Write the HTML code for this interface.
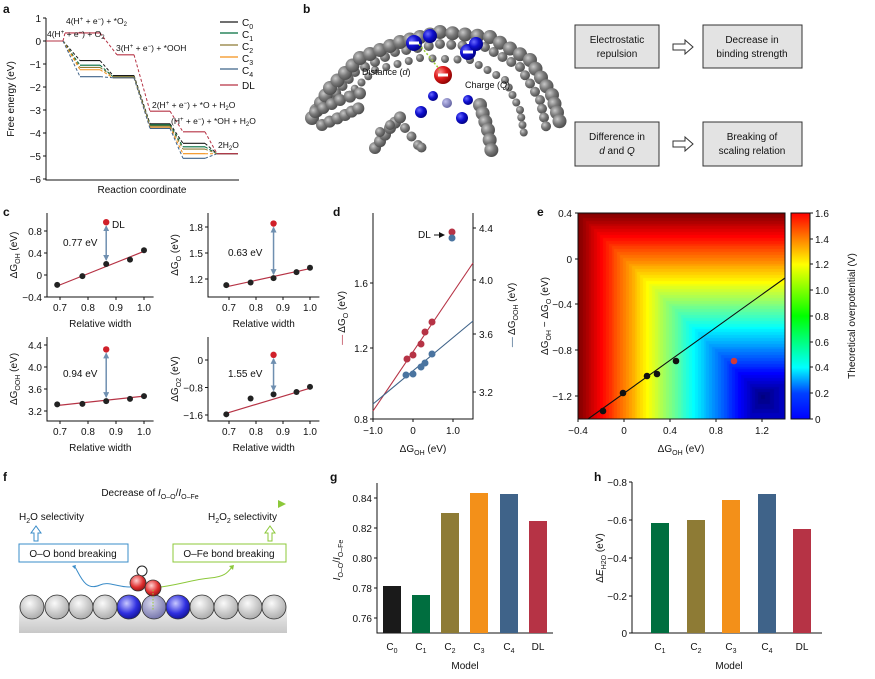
<!DOCTYPE html>
<html><head><meta charset="utf-8"><style>
body{margin:0;background:#fff;}
#w{position:relative;width:875px;height:679px;overflow:hidden;font-family:"Liberation Sans",sans-serif;}
svg{position:absolute;left:0;top:0;}
text{font-family:"Liberation Sans",sans-serif;fill:#111;}
#hm{position:absolute;left:578px;top:213px;}
</style></head><body><div id="w">
<canvas id="hm" width="207" height="206"></canvas>
<svg id="s" width="875" height="679" viewBox="0 0 875 679">
<defs>
<radialGradient id="gg" cx="0.35" cy="0.35" r="0.7"><stop offset="0" stop-color="#c8c8c8"/><stop offset="0.5" stop-color="#7a7a7a"/><stop offset="1" stop-color="#4a4a4a"/></radialGradient>
<radialGradient id="gb" cx="0.35" cy="0.35" r="0.7"><stop offset="0" stop-color="#6a6aff"/><stop offset="0.5" stop-color="#1010d0"/><stop offset="1" stop-color="#000080"/></radialGradient>
<radialGradient id="gr" cx="0.35" cy="0.35" r="0.7"><stop offset="0" stop-color="#ff9090"/><stop offset="0.5" stop-color="#dd1a1a"/><stop offset="1" stop-color="#8a0000"/></radialGradient>
<radialGradient id="gl" cx="0.4" cy="0.35" r="0.7"><stop offset="0" stop-color="#fafafa"/><stop offset="1" stop-color="#a8a8a8"/></radialGradient>
<radialGradient id="gbl" cx="0.4" cy="0.35" r="0.7"><stop offset="0" stop-color="#c8c8ff"/><stop offset="0.6" stop-color="#3030e0"/><stop offset="1" stop-color="#101090"/></radialGradient>
<radialGradient id="gp" cx="0.4" cy="0.35" r="0.7"><stop offset="0" stop-color="#d8d8ee"/><stop offset="1" stop-color="#7070a8"/></radialGradient>
<radialGradient id="gro" cx="0.4" cy="0.35" r="0.7"><stop offset="0" stop-color="#ffd0d0"/><stop offset="0.6" stop-color="#e03030"/><stop offset="1" stop-color="#901010"/></radialGradient>
<radialGradient id="gpu" cx="0.35" cy="0.35" r="0.7"><stop offset="0" stop-color="#c0c0ee"/><stop offset="1" stop-color="#6060a0"/></radialGradient>
<linearGradient id="jet" x1="0" y1="1" x2="0" y2="0">
<stop offset="0" stop-color="#0000ff"/><stop offset="0.125" stop-color="#0040ff"/><stop offset="0.25" stop-color="#00ffff"/><stop offset="0.5" stop-color="#00ff00"/><stop offset="0.75" stop-color="#ffff00"/><stop offset="0.875" stop-color="#ff8000"/><stop offset="1" stop-color="#ff0000"/></linearGradient>
<linearGradient id="arrg" x1="0" x2="1"><stop offset="0" stop-color="#3a8cc8"/><stop offset="1" stop-color="#8cc83a"/></linearGradient>
<linearGradient id="base" x1="0" y1="0" x2="0" y2="1"><stop offset="0" stop-color="#f4f4f4"/><stop offset="1" stop-color="#c8c8c8"/></linearGradient>
<marker id="ah" markerUnits="userSpaceOnUse" markerWidth="6" markerHeight="6" refX="5" refY="3" orient="auto-start-reverse"><path d="M0,0 L6,3 L0,6 z" fill="#6f8fb0"/></marker>
<marker id="ahk" markerUnits="userSpaceOnUse" markerWidth="6" markerHeight="6" refX="5" refY="3" orient="auto"><path d="M0,0 L6,3 L0,6 z" fill="#111"/></marker>
</defs>
<g font-weight="bold" font-size="12"><text x="3" y="13">a</text><text x="303" y="13">b</text><text x="3" y="216">c</text><text x="333" y="216">d</text><text x="537" y="216">e</text><text x="3" y="481">f</text><text x="330" y="481">g</text><text x="594" y="481">h</text></g>

<!-- Panel a -->
<g stroke="#111" stroke-width="1" fill="none"><path d="M46,18 V180 H239"/>
<path d="M43,18H46M43,41H46M43,64H46M43,87H46M43,110H46M43,133H46M43,156H46M43,179H46"/></g>
<g font-size="10" text-anchor="end"><text x="41" y="22">1</text><text x="41" y="45">0</text><text x="41" y="68">−1</text><text x="41" y="91">−2</text><text x="41" y="114">−3</text><text x="41" y="137">−4</text><text x="41" y="160">−5</text><text x="41" y="183">−6</text></g>
<text x="14" y="99" font-size="10" text-anchor="middle" transform="rotate(-90 14 99)">Free energy (eV)</text>
<text x="142" y="193" font-size="10" text-anchor="middle">Reaction coordinate</text>
<g id="alevels"></g>
<g font-size="8.5">
<text x="66" y="24">4(H<tspan dy="-3" font-size="6">+</tspan><tspan dy="3"> + e</tspan><tspan dy="-3" font-size="6">−</tspan><tspan dy="3">) + *O</tspan><tspan dy="2" font-size="6">2</tspan></text>
<text x="47" y="37">4(H<tspan dy="-3" font-size="6">+</tspan><tspan dy="3"> + e</tspan><tspan dy="-3" font-size="6">−</tspan><tspan dy="3">) + O</tspan><tspan dy="2" font-size="6">2</tspan></text>
<text x="116" y="51">3(H<tspan dy="-3" font-size="6">+</tspan><tspan dy="3"> + e</tspan><tspan dy="-3" font-size="6">−</tspan><tspan dy="3">) + *OOH</tspan></text>
<text x="152" y="108">2(H<tspan dy="-3" font-size="6">+</tspan><tspan dy="3"> + e</tspan><tspan dy="-3" font-size="6">−</tspan><tspan dy="3">) + *O + H</tspan><tspan dy="2" font-size="6">2</tspan><tspan dy="-2">O</tspan></text>
<text x="171" y="124">(H<tspan dy="-3" font-size="6">+</tspan><tspan dy="3"> + e</tspan><tspan dy="-3" font-size="6">−</tspan><tspan dy="3">) + *OH + H</tspan><tspan dy="2" font-size="6">2</tspan><tspan dy="-2">O</tspan></text>
<text x="218" y="148">2H<tspan dy="2" font-size="6">2</tspan><tspan dy="-2">O</tspan></text>
</g>
<g stroke-width="1.3"><path d="M220,22h18" stroke="#1a1a1a"/><path d="M220,33h18" stroke="#006e3f"/><path d="M220,45h18" stroke="#8e7b35"/><path d="M220,57h18" stroke="#f39019"/><path d="M220,69h18" stroke="#3f6389"/><path d="M220,85h18" stroke="#b63345"/></g>
<g font-size="10"><text x="242" y="26">C<tspan dy="3" font-size="7">0</tspan></text><text x="242" y="38">C<tspan dy="3" font-size="7">1</tspan></text><text x="242" y="50">C<tspan dy="3" font-size="7">2</tspan></text><text x="242" y="62">C<tspan dy="3" font-size="7">3</tspan></text><text x="242" y="74">C<tspan dy="3" font-size="7">4</tspan></text><text x="242" y="89">DL</text></g>

<!-- Panel b -->
<g id="mol"></g>
<path d="M419,44 L440,70" stroke="#9acd32" stroke-width="1.5" stroke-dasharray="2,2"/>
<g font-size="9" fill="#223"><text x="362" y="75" fill="#223">Distance (<tspan font-style="italic">d</tspan>)</text><text x="465" y="88">Charge (<tspan font-style="italic">Q</tspan>)</text></g>
<g fill="#e3e3e3" stroke="#333" stroke-width="1"><rect x="575" y="25" width="84" height="43"/><rect x="703" y="25" width="99" height="43"/><rect x="575" y="122" width="84" height="44"/><rect x="703" y="122" width="99" height="44"/></g>
<g font-size="10" text-anchor="middle"><text x="617" y="43">Electrostatic</text><text x="617" y="57">repulsion</text><text x="752" y="43">Decrease in</text><text x="752" y="57">binding strength</text><text x="617" y="140">Difference in</text><text x="617" y="154"><tspan font-style="italic">d</tspan> and <tspan font-style="italic">Q</tspan></text><text x="752" y="140">Breaking of</text><text x="752" y="154">scaling relation</text></g>
<g fill="#fff" stroke="#333" stroke-width="1"><path d="M673,44h12v-4l8,7l-8,7v-4h-12z"/><path d="M673,141h12v-4l8,7l-8,7v-4h-12z"/></g>

<!-- Panel c -->
<g id="pc"></g>

<!-- Panel d -->
<g stroke="#111" fill="none"><path d="M373,213V419H473V213"/>
<path d="M370,283h3M370,348h3M370,419h3M473,228h3M473,280h3M473,334h3M473,392h3M373,419v3M413,419v3M453,419v3"/></g>
<g font-size="10"><g text-anchor="end"><text x="368" y="287">1.6</text><text x="368" y="352">1.2</text><text x="368" y="423">0.8</text></g>
<text x="479" y="232">4.4</text><text x="479" y="284">4.0</text><text x="479" y="338">3.6</text><text x="479" y="396">3.2</text>
<g text-anchor="middle"><text x="373" y="434">−1.0</text><text x="413" y="434">0</text><text x="453" y="434">1.0</text></g>
<text x="423" y="452" text-anchor="middle">ΔG<tspan dy="3" font-size="7">OH</tspan><tspan dy="-3"> (eV)</tspan></text></g>
<text x="345" y="318" font-size="10" text-anchor="middle" transform="rotate(-90 345 318)"><tspan fill="#b63345">— </tspan>ΔG<tspan dy="3" font-size="7">O</tspan><tspan dy="-3"> (eV)</tspan></text>
<text x="515" y="315" font-size="10" text-anchor="middle" transform="rotate(-90 515 315)"><tspan fill="#3f6389">— </tspan>ΔG<tspan dy="3" font-size="7">OOH</tspan><tspan dy="-3"> (eV)</tspan></text>
<path d="M373,411L473,263" stroke="#b63345" stroke-width="1.1"/><path d="M373,404L473,321" stroke="#3f6389" stroke-width="1.1"/>
<g fill="#b63345"><circle cx="407" cy="359" r="3.5"/><circle cx="413" cy="355" r="3.5"/><circle cx="421" cy="344" r="3.5"/><circle cx="425" cy="332" r="3.5"/><circle cx="432" cy="322" r="3.5"/><circle cx="452" cy="232" r="3.5"/></g>
<g fill="#4a74a0"><circle cx="406" cy="375" r="3.5"/><circle cx="413" cy="374" r="3.5"/><circle cx="421" cy="367" r="3.5"/><circle cx="425" cy="363" r="3.5"/><circle cx="432" cy="354" r="3.5"/><circle cx="452" cy="238" r="3.5"/></g>
<text x="418" y="238" font-size="10">DL</text><path d="M434,235h10" stroke="#111" marker-end="url(#ahk)"/>

<!-- Panel e -->
<g stroke="#111" fill="none"><rect x="578" y="213" width="207" height="206"/>
<path d="M575,213h3M575,259h3M575,304h3M575,350h3M575,396h3M578,419v3M624,419v3M670,419v3M716,419v3M762,419v3"/></g>
<path d="M588,419L785,278" stroke="#111" stroke-width="1.1"/>
<g fill="#111"><circle cx="603" cy="411" r="3.3"/><circle cx="623" cy="393" r="3.3"/><circle cx="647" cy="376" r="3.3"/><circle cx="657" cy="374" r="3.3"/><circle cx="676" cy="361" r="3.3"/></g>
<circle cx="734" cy="361" r="3.3" fill="#d03a3a"/>
<g font-size="10"><g text-anchor="end"><text x="572" y="217">0.4</text><text x="572" y="263">0</text><text x="572" y="308">−0.4</text><text x="572" y="354">−0.8</text><text x="572" y="400">−1.2</text></g>
<g text-anchor="middle"><text x="578" y="434">−0.4</text><text x="624" y="434">0</text><text x="670" y="434">0.4</text><text x="716" y="434">0.8</text><text x="762" y="434">1.2</text></g>
<text x="681" y="452" text-anchor="middle">ΔG<tspan dy="3" font-size="7">OH</tspan><tspan dy="-3"> (eV)</tspan></text></g>
<text x="548" y="316" font-size="10" text-anchor="middle" transform="rotate(-90 548 316)">ΔG<tspan dy="3" font-size="7">OH</tspan><tspan dy="-3"> − ΔG</tspan><tspan dy="3" font-size="7">O</tspan><tspan dy="-3"> (eV)</tspan></text>
<rect x="791" y="213" width="19" height="206" fill="url(#jet)" stroke="#111"/>
<g stroke="#111"><path d="M810,213h3M810,239h3M810,264h3M810,290h3M810,316h3M810,342h3M810,367h3M810,393h3M810,419h3"/></g>
<g font-size="10"><text x="815" y="217">1.6</text><text x="815" y="243">1.4</text><text x="815" y="268">1.2</text><text x="815" y="294">1.0</text><text x="815" y="320">0.8</text><text x="815" y="346">0.6</text><text x="815" y="371">0.4</text><text x="815" y="397">0.2</text><text x="815" y="423">0</text></g>
<text x="855" y="316" font-size="10" text-anchor="middle" transform="rotate(-90 855 316)">Theoretical overpotential (V)</text>

<!-- Panel f -->
<path d="M20,504H280" stroke="url(#arrg)" stroke-width="1.5"/><path d="M278,500L286,504L278,508z" fill="#8cc83a"/>
<text x="150" y="496" font-size="10" text-anchor="middle">Decrease of <tspan font-style="italic">I</tspan><tspan dy="3" font-size="7">O–O</tspan><tspan dy="-3">/</tspan><tspan font-style="italic">I</tspan><tspan dy="3" font-size="7">O–Fe</tspan></text>
<text x="19" y="520" font-size="10">H<tspan dy="3" font-size="7">2</tspan><tspan dy="-3">O selectivity</tspan></text>
<text x="208" y="520" font-size="10">H<tspan dy="3" font-size="7">2</tspan><tspan dy="-3">O</tspan><tspan dy="3" font-size="7">2</tspan><tspan dy="-3"> selectivity</tspan></text>
<path d="M34,541v-8h-3l5,-7l5,7h-3v8z" fill="#fff" stroke="#3a8cc8"/>
<path d="M268,541v-8h-3l5,-7l5,7h-3v8z" fill="#fff" stroke="#8cc83a"/>
<rect x="19" y="544" width="109" height="18" fill="#fff" stroke="#3a8cc8"/>
<rect x="173" y="544" width="113" height="18" fill="#fff" stroke="#8cc83a"/>
<text x="73" y="557" font-size="10" text-anchor="middle">O–O bond breaking</text>
<text x="229" y="557" font-size="10" text-anchor="middle">O–Fe bond breaking</text>
<path d="M138,586 C120,590 110,580 100,585 C85,592 80,575 75,567" stroke="#3a8cc8" fill="none"/><path d="M72,566l4,-1l-1,4z" fill="#3a8cc8"/>
<path d="M153,588 C180,585 190,580 210,578 C225,577 228,572 232,567" stroke="#8cc83a" fill="none"/><path d="M229,566l5,-1l-1,5z" fill="#8cc83a"/>
<rect x="19" y="605" width="268" height="28" fill="url(#base)"/>
<g id="frow" stroke="#333" stroke-width="0.8"></g>
<circle cx="142" cy="571" r="5" fill="#fff" stroke="#222"/>
<circle cx="138" cy="583" r="8" fill="url(#gro)" stroke="#333" stroke-width="0.8"/>
<circle cx="153" cy="588" r="8" fill="url(#gro)" stroke="#333" stroke-width="0.8"/>
<path d="M153,590V610" stroke="#9acd32" stroke-dasharray="1.5,1.5"/>

<!-- Panel g -->
<g stroke="#111" fill="none"><path d="M377,483V633H553"/>
<path d="M374,498h3M374,528h3M374,558h3M374,588h3M374,618h3"/></g>
<g font-size="10" text-anchor="end"><text x="372" y="502">0.84</text><text x="372" y="532">0.82</text><text x="372" y="562">0.80</text><text x="372" y="592">0.78</text><text x="372" y="622">0.76</text></g>
<g><rect x="383" y="586" width="18" height="47" fill="#1a1a1a"/><rect x="412" y="595" width="18" height="38" fill="#006e3f"/><rect x="441" y="513" width="18" height="120" fill="#8e7b35"/><rect x="470" y="493" width="18" height="140" fill="#f39019"/><rect x="500" y="494" width="18" height="139" fill="#3f6389"/><rect x="529" y="521" width="18" height="112" fill="#b63345"/></g>
<g font-size="10" text-anchor="middle"><text x="392" y="650">C<tspan dy="3" font-size="7">0</tspan></text><text x="421" y="650">C<tspan dy="3" font-size="7">1</tspan></text><text x="450" y="650">C<tspan dy="3" font-size="7">2</tspan></text><text x="479" y="650">C<tspan dy="3" font-size="7">3</tspan></text><text x="509" y="650">C<tspan dy="3" font-size="7">4</tspan></text><text x="538" y="650">DL</text><text x="465" y="669">Model</text></g>
<text x="340" y="560" font-size="10" text-anchor="middle" transform="rotate(-90 340 560)"><tspan font-style="italic">I</tspan><tspan dy="3" font-size="7">O–O</tspan><tspan dy="-3">/</tspan><tspan font-style="italic">I</tspan><tspan dy="3" font-size="7">O–Fe</tspan></text>

<!-- Panel h -->
<g stroke="#111" fill="none"><path d="M632,482V633H822"/>
<path d="M629,482h3M629,520h3M629,558h3M629,596h3M629,633h3"/></g>
<g font-size="10" text-anchor="end"><text x="627" y="486">−0.8</text><text x="627" y="524">−0.6</text><text x="627" y="562">−0.4</text><text x="627" y="600">−0.2</text><text x="627" y="637">0</text></g>
<g><rect x="651" y="523" width="18" height="110" fill="#006e3f"/><rect x="687" y="520" width="18" height="113" fill="#8e7b35"/><rect x="722" y="500" width="18" height="133" fill="#f39019"/><rect x="758" y="494" width="18" height="139" fill="#3f6389"/><rect x="793" y="529" width="18" height="104" fill="#b63345"/></g>
<g font-size="10" text-anchor="middle"><text x="660" y="650">C<tspan dy="3" font-size="7">1</tspan></text><text x="696" y="650">C<tspan dy="3" font-size="7">2</tspan></text><text x="731" y="650">C<tspan dy="3" font-size="7">3</tspan></text><text x="767" y="650">C<tspan dy="3" font-size="7">4</tspan></text><text x="802" y="650">DL</text><text x="729" y="669">Model</text></g>
<text x="603" y="558" font-size="10" text-anchor="middle" transform="rotate(-90 603 558)">Δ<tspan font-style="italic">E</tspan><tspan dy="3" font-size="7">H2O</tspan><tspan dy="-3"> (eV)</tspan></text>
</svg>
<script>
var NS="http://www.w3.org/2000/svg";
function el(p,t,a){var e=document.createElementNS(NS,t);for(var k in a)e.setAttribute(k,a[k]);p.appendChild(e);return e;}
function jet(v){var r=Math.min(4*v-1.5,-4*v+4.5),g=Math.min(4*v-0.5,-4*v+3.5),b=Math.min(4*v+0.5,-4*v+2.5);
function c(x){return Math.round(255*Math.max(0,Math.min(1,x)));}return [c(r),c(g),c(b)];}
(function(){var cv=document.getElementById('hm'),ctx=cv.getContext('2d'),W=207,H=206,im=ctx.createImageData(W,H);
for(var j=0;j<H;j++)for(var i=0;i<W;i++){var x=-0.4+1.8*i/W,y=0.4-1.8*j/H;
var e=Math.max(1.2-x,1.2+y,0.6*(x-1.2),0.6*(-1.2-y));e=Math.max(0,Math.min(1.6,e));e=Math.round(e/0.025)*0.025;
var c=jet(e/1.6),k=4*(j*W+i);im.data[k]=c[0];im.data[k+1]=c[1];im.data[k+2]=c[2];im.data[k+3]=255;}
ctx.putImageData(im,0,0);})();
(function(){var g=document.getElementById('alevels');function Y(v){return 41-23*v;}
var cols=['#1a1a1a','#006e3f','#8e7b35','#f39019','#3f6389','#b63345'];
var st=[[46,63],[80,100],[113,134],[150,170],[183,205],[217,238]];
var L=[[0,-0.85,-1.5,-3.6,-4.45,-4.9],[0,-1.05,-1.55,-3.65,-4.6,-4.9],[0,-1.15,-1.55,-3.7,-4.7,-4.9],[0,-1.25,-1.6,-3.75,-4.9,-4.9],[0,-1.55,-1.6,-3.8,-5.1,-4.9],[0,0.35,-0.6,-3.05,-3.95,-4.9]];
for(var s=0;s<6;s++){for(var k=0;k<6;k++){var x0=st[k][0],x1=st[k][1];if(s==5&&k==1)x0=65;if(s==5&&k==2)x0=117;
el(g,'path',{d:'M'+x0+','+Y(L[s][k])+'H'+x1,stroke:cols[s],'stroke-width':1.1,fill:'none'});
if(k<5){var nx=st[k+1][0];if(s==5&&k==0)nx=65;if(s==5&&k==1)nx=117;
el(g,'path',{d:'M'+x1+','+Y(L[s][k])+'L'+nx+','+Y(L[s][k+1]),stroke:cols[s],'stroke-width':1,'stroke-dasharray':'3,2',fill:'none'});}}}})();
(function(){var g=document.getElementById('mol');
function arc(pts,r,n,fill){for(var i=0;i<pts.length-1;i++){for(var t=0;t<n;t++){var f=t/n;var x=pts[i][0]+(pts[i+1][0]-pts[i][0])*f,y=pts[i][1]+(pts[i+1][1]-pts[i][1])*f;el(g,'circle',{cx:x,cy:y,r:r,fill:fill||'url(#gg)'});}}}
arc([[348,95],[375,70],[420,58],[470,60],[505,80],[520,110],[525,140]],4,4);
arc([[330,100],[355,72],[395,52],[440,44],[485,47],[520,67],[540,100],[548,135]],5,4);
arc([[312,118],[330,88],[360,58],[400,42],[440,32],[490,37],[530,60],[552,95],[562,130]],7,4);
arc([[315,112],[340,100],[370,90]],6,3);
arc([[322,125],[345,115],[365,105]],6,3);
arc([[375,148],[390,128],[405,112]],6,3);
arc([[380,132],[400,118]],5,2);
arc([[405,128],[418,145],[425,150]],5,2);
arc([[480,105],[488,130],[493,160]],7,3);
el(g,'circle',{cx:447,cy:103,r:5,fill:'url(#gpu)'});
[[414,43,8],[430,36,7],[468,52,8],[476,44,7],[433,96,5],[421,112,6],[468,100,5],[462,118,6]].forEach(function(p){el(g,'circle',{cx:p[0],cy:p[1],r:p[2],fill:'url(#gb)'});});
el(g,'circle',{cx:443,cy:75,r:9,fill:'url(#gr)'});
[[414,43],[468,52],[443,75]].forEach(function(p){el(g,'rect',{x:p[0]-5,y:p[1]-1.5,width:10,height:3,fill:'#fff'});});})();
(function(){var g=document.getElementById('pc');
var P=[{ax:47,x0:60,sx:280,yt:213,yb:297,ys:[[0.8,231],[-0.4,297]],ticks:[0.8,0.4,0,-0.4],lab:['0.8','0.4','0','−0.4'],pts:[-0.18,-0.02,0.2,0.28,0.45],dl:0.96,fit:[-0.2,0.43],ev:'0.77 eV',evx:63,evy:246,yl:'OH'},
{ax:208,x0:229,sx:270,yt:213,yb:297,ys:[[1.8,227],[1.2,279]],ticks:[1.8,1.5,1.2],lab:['1.8','1.5','1.2'],pts:[1.13,1.16,1.21,1.28,1.33],dl:1.84,fit:[1.11,1.32],ev:'0.63 eV',evx:228,evy:256,yl:'O'},
{ax:47,x0:60,sx:280,yt:337,yb:421,ys:[[4.4,345],[3.2,411]],ticks:[4.4,4.0,3.6,3.2],lab:['4.4','4.0','3.6','3.2'],pts:[3.32,3.33,3.38,3.42,3.47],dl:4.32,fit:[3.3,3.47],ev:'0.94 eV',evx:63,evy:377,yl:'OOH'},
{ax:208,x0:229,sx:270,yt:337,yb:421,ys:[[0,360],[-1.6,415]],ticks:[0,-0.8,-1.6],lab:['0','−0.8','−1.6'],pts:[-1.58,-1.12,-1.0,-0.93,-0.78],dl:0.15,fit:[-1.55,-0.82],ev:'1.55 eV',evx:228,evy:377,yl:'O2'}];
var xs=[0.69,0.78,0.865,0.95,1.0];
P.forEach(function(p){function X(v){return p.x0+(v-0.7)*p.sx;}var k=(p.ys[1][1]-p.ys[0][1])/(p.ys[1][0]-p.ys[0][0]);function Y(v){return p.ys[0][1]+(v-p.ys[0][0])*k;}
var xe=X(1.02)+4;
el(g,'path',{d:'M'+p.ax+','+p.yt+'V'+p.yb+'H'+xe,stroke:'#111',fill:'none'});
[0.7,0.8,0.9,1.0].forEach(function(t,i){el(g,'path',{d:'M'+X(t)+','+p.yb+'v3',stroke:'#111'});var tx=el(g,'text',{x:X(t),y:p.yb+14,'font-size':10,'text-anchor':'middle'});tx.textContent=['0.7','0.8','0.9','1.0'][i];});
p.ticks.forEach(function(t,i){el(g,'path',{d:'M'+(p.ax-3)+','+Y(t)+'h3',stroke:'#111'});var tx=el(g,'text',{x:p.ax-5,y:Y(t)+4,'font-size':10,'text-anchor':'end'});tx.textContent=p.lab[i];});
var rl=el(g,'text',{x:(p.ax+xe)/2,y:p.yb+30,'font-size':10,'text-anchor':'middle'});rl.textContent='Relative width';
var yx=p.ax-30,yy=(p.yt+p.yb)/2;var t=el(g,'text',{x:yx,y:yy,'font-size':10,'text-anchor':'middle',transform:'rotate(-90 '+yx+' '+yy+')'});
t.innerHTML='ΔG<tspan dy="3" font-size="7">'+p.yl+'</tspan><tspan dy="-3"> (eV)</tspan>';
el(g,'path',{d:'M'+X(0.69)+','+Y(p.fit[0])+'L'+X(1.0)+','+Y(p.fit[1]),stroke:'#b63345','stroke-width':1.2});
el(g,'path',{d:'M'+X(0.865)+','+(Y(p.dl)+4)+'V'+(Y(p.pts[2])-4),stroke:'#6f8fb0','stroke-width':1.5,'marker-end':'url(#ah)','marker-start':'url(#ah)'});
xs.forEach(function(x,i){el(g,'circle',{cx:X(x),cy:Y(p.pts[i]),r:3,fill:'#222'});});
el(g,'circle',{cx:X(0.865),cy:Y(p.dl),r:3.2,fill:'#d0202a'});
var e=el(g,'text',{x:p.evx,y:p.evy,'font-size':10});e.textContent=p.ev;});
var d=el(g,'text',{x:112,y:228,'font-size':10});d.textContent='DL';})();
(function(){var g=document.getElementById('frow');var xs=[32,57,81,105,129,154,178,202,226,250,274];
xs.forEach(function(x,i){el(g,'circle',{cx:x,cy:607,r:12,fill:(i==4||i==6)?'url(#gbl)':(i==5?'url(#gp)':'url(#gl)')});});})();
</script>
</div></body></html>
